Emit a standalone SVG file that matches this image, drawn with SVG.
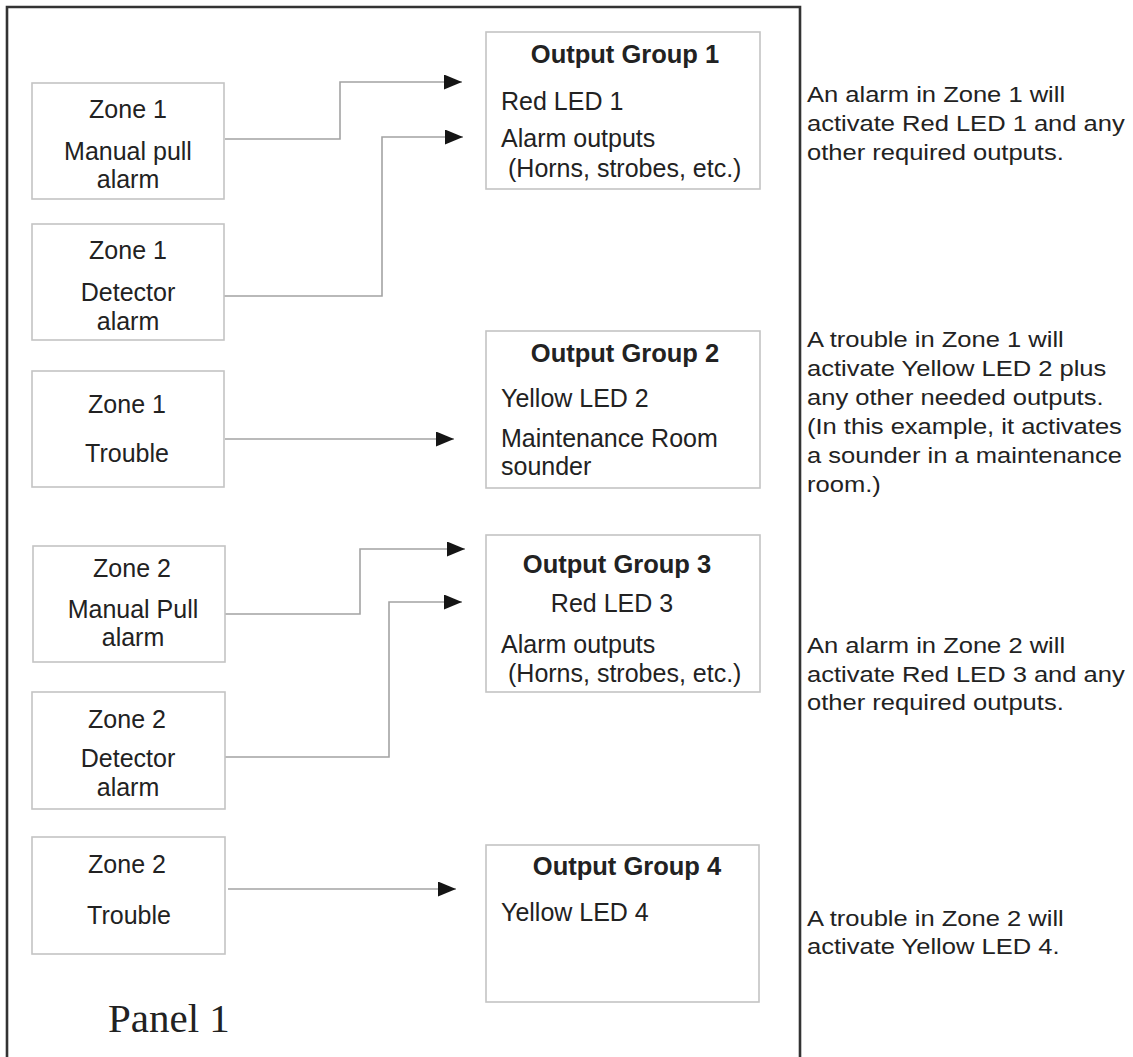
<svg xmlns="http://www.w3.org/2000/svg" width="1133" height="1057" viewBox="0 0 1133 1057">
<style>
.box{fill:#fff;stroke:#c4c4c4;stroke-width:1.6}
.t{font-family:"Liberation Sans",Arial,sans-serif;font-size:25px;fill:#222}
.c{text-anchor:middle}
.b{font-weight:bold;font-size:25.5px}
.note{font-family:"Liberation Sans",Arial,sans-serif;font-size:22.5px;fill:#222}
.conn{fill:none;stroke:#a3a3a3;stroke-width:1.6}
</style>
<defs>
<marker id="arr" markerUnits="userSpaceOnUse" markerWidth="19" markerHeight="16" refX="18" refY="7.5" orient="auto">
<path d="M0,0 L18,7.5 L0,15 Z" fill="#151515"/>
</marker>
</defs>
<rect x="0" y="0" width="1133" height="1057" fill="#fff"/>
<g id="panel">
<path d="M7,1057 V7 H800 V1057" fill="none" stroke="#333" stroke-width="2.6"/>
<text x="108" y="1032" style="font-family:'Liberation Serif','Times New Roman',serif;font-size:41px;fill:#222">Panel 1</text>
</g>
<g id="connectors">
<path class="conn" d="M225,139 H340 V82 H462" marker-end="url(#arr)"/>
<path class="conn" d="M224,296 H382 V137 H463" marker-end="url(#arr)"/>
<path class="conn" d="M225,439 H454" marker-end="url(#arr)"/>
<path class="conn" d="M225,614 H360 V549 H465" marker-end="url(#arr)"/>
<path class="conn" d="M222,757 H389 V602 H462" marker-end="url(#arr)"/>
<path class="conn" d="M228,889 H456" marker-end="url(#arr)"/>
</g>
<g id="zone1-manual">
<rect class="box" x="32" y="83" width="192" height="116"/>
<text class="t c" x="128" y="118">Zone 1</text>
<text class="t c" x="128" y="160">Manual pull</text>
<text class="t c" x="128" y="188">alarm</text>
</g>
<g id="zone1-detector">
<rect class="box" x="32" y="224" width="192" height="116"/>
<text class="t c" x="128" y="259">Zone 1</text>
<text class="t c" x="128" y="301">Detector</text>
<text class="t c" x="128" y="330">alarm</text>
</g>
<g id="zone1-trouble">
<rect class="box" x="32" y="371" width="192" height="116"/>
<text class="t c" x="127" y="413">Zone 1</text>
<text class="t c" x="127" y="462">Trouble</text>
</g>
<g id="zone2-manual">
<rect class="box" x="33" y="546" width="192" height="116"/>
<text class="t c" x="132" y="577">Zone 2</text>
<text class="t c" x="133" y="618">Manual Pull</text>
<text class="t c" x="133" y="646">alarm</text>
</g>
<g id="zone2-detector">
<rect class="box" x="32" y="692" width="193" height="117"/>
<text class="t c" x="127" y="728">Zone 2</text>
<text class="t c" x="128" y="767">Detector</text>
<text class="t c" x="128" y="796">alarm</text>
</g>
<g id="zone2-trouble">
<rect class="box" x="32" y="837" width="193" height="117"/>
<text class="t c" x="127" y="873">Zone 2</text>
<text class="t c" x="129" y="924">Trouble</text>
</g>
<g id="output-group-1">
<rect class="box" x="486" y="32" width="274" height="157"/>
<text class="t b c" x="625" y="63">Output Group 1</text>
<text class="t" x="501" y="110">Red LED 1</text>
<text class="t" x="501" y="147">Alarm outputs</text>
<text class="t" x="508" y="177">(Horns, strobes, etc.)</text>
</g>
<g id="output-group-2">
<rect class="box" x="486" y="331" width="274" height="157"/>
<text class="t b c" x="625" y="362">Output Group 2</text>
<text class="t" x="501" y="407">Yellow LED 2</text>
<text class="t" x="501" y="447">Maintenance Room</text>
<text class="t" x="501" y="475">sounder</text>
</g>
<g id="output-group-3">
<rect class="box" x="486" y="535" width="274" height="157"/>
<text class="t b c" x="617" y="573">Output Group 3</text>
<text class="t c" x="612" y="612">Red LED 3</text>
<text class="t" x="501" y="653">Alarm outputs</text>
<text class="t" x="508" y="682">(Horns, strobes, etc.)</text>
</g>
<g id="output-group-4">
<rect class="box" x="486" y="845" width="273" height="157"/>
<text class="t b c" x="627" y="875">Output Group 4</text>
<text class="t" x="501" y="921">Yellow LED 4</text>
</g>
<g id="notes" transform="matrix(1.135 0 0 1 807 0)">
<text class="note" x="0" y="102">An alarm in Zone 1 will</text>
<text class="note" x="0" y="131">activate Red LED 1 and any</text>
<text class="note" x="0" y="160">other required outputs.</text>
<text class="note" x="0" y="347">A trouble in Zone 1 will</text>
<text class="note" x="0" y="376">activate Yellow LED 2 plus</text>
<text class="note" x="0" y="405">any other needed outputs.</text>
<text class="note" x="0" y="434">(In this example, it activates</text>
<text class="note" x="0" y="463">a sounder in a maintenance</text>
<text class="note" x="0" y="492">room.)</text>
<text class="note" x="0" y="653">An alarm in Zone 2 will</text>
<text class="note" x="0" y="682">activate Red LED 3 and any</text>
<text class="note" x="0" y="710">other required outputs.</text>
<text class="note" x="0" y="926">A trouble in Zone 2 will</text>
<text class="note" x="0" y="954">activate Yellow LED 4.</text>
</g>
</svg>
